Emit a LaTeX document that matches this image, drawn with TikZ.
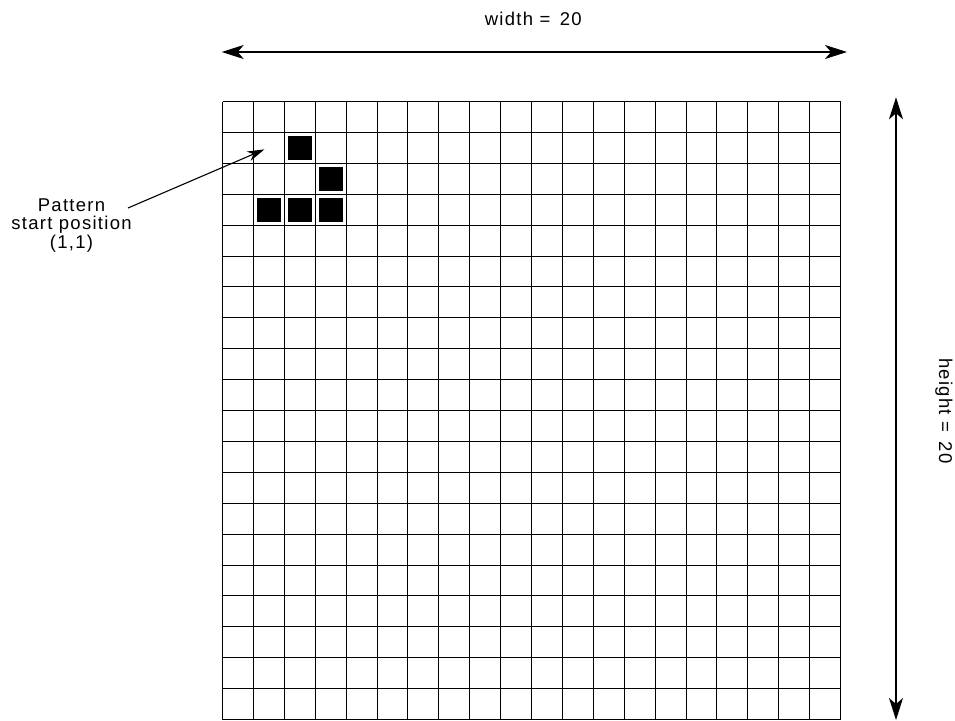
\documentclass[tikz,border=0pt]{standalone}
\usepackage{fontspec}
\setmainfont{Liberation Sans}[LetterSpace=7]
\usetikzlibrary{arrows.meta}
\begin{document}
\begin{tikzpicture}[x=1pt,y=-1pt,
  lbl/.style={font=\fontsize{18.5}{18.3}\selectfont, inner sep=0pt},
  dimline/.style={line width=1.2pt, {Stealth[length=22pt,width=14pt,inset=6pt]}-{Stealth[length=22pt,width=14pt,inset=6pt]}},
  ptr/.style={line width=1.1pt, -{Stealth[length=17pt,width=10pt,inset=5pt]}},
  gridline/.style={line width=1pt, black},
  cellon/.style={fill=black}]
\useasboundingbox (0,0) rectangle (955,720);
\def\cs{30.9}
\begin{scope}[shift={(222.5,101.5)}]
  \foreach \i in {0,...,20} {
    \draw[gridline] ({\i*\cs},0) -- ({\i*\cs},{20*\cs});
    \draw[gridline] (0,{\i*\cs}) -- ({20*\cs},{\i*\cs});
  }
  \foreach \c/\r in {2/1,3/2,1/3,2/3,3/3}
    \fill[cellon] ({\c*\cs+3.5},{\r*\cs+3.5}) rectangle ++(24,24);
  \coordinate (cellstart) at ({1*\cs+11},{1*\cs+17});
\end{scope}
% width dimension
\coordinate (wl) at (221.7,52);
\coordinate (wr) at (847,52);
\draw[dimline] (wl) -- (wr);
\node[lbl, anchor=base] (wlab) at (533.3,25.7) {width = \,20};
% height dimension
\coordinate (ht) at (896,97.3);
\coordinate (hb) at (896,720);
\draw[dimline] (ht) -- (hb);
\node[lbl, rotate=-90] (hlab) at (944,411) {height = \,20};
% pattern start
\node[lbl, align=center, anchor=north] (pat) at (71.5,198.5) {Pattern\\start position\\(1,1)};
\coordinate (pfrom) at (128,208);
\draw[ptr] (pfrom) -- (cellstart);
\end{tikzpicture}
\end{document}
